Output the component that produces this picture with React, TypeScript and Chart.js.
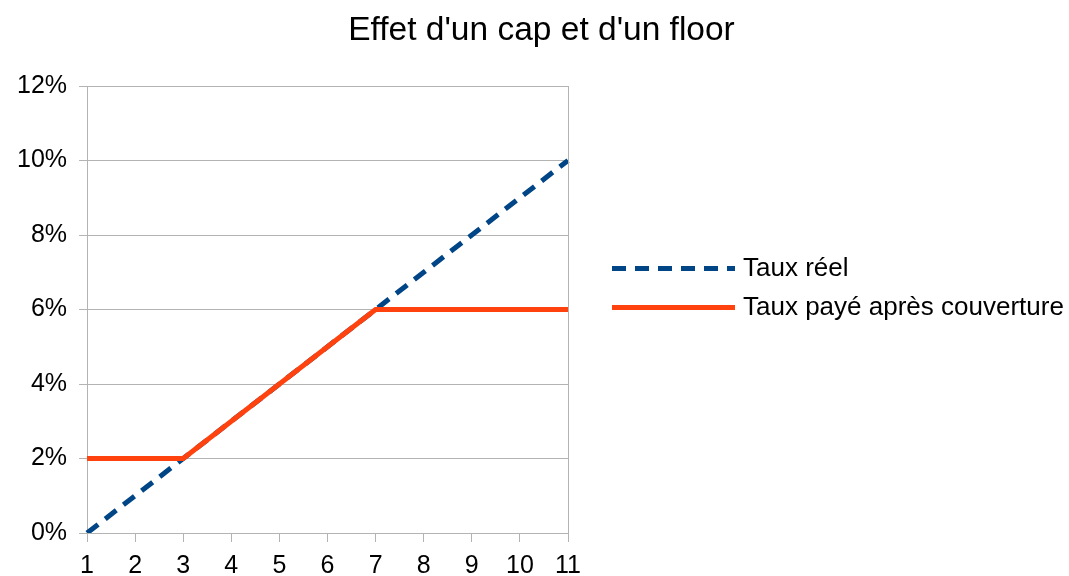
import React, { useEffect, useRef } from "react";
import { Chart, registerables } from "chart.js";

Chart.register(...registerables);

const categories = ["1", "2", "3", "4", "5", "6", "7", "8", "9", "10", "11"];
const tauxReel = [0, 1, 2, 3, 4, 5, 6, 7, 8, 9, 10];
const tauxPaye = [2, 2, 2, 3, 4, 5, 6, 6, 6, 6, 6];
const seriesNames = ["Taux réel", "Taux payé après couverture"];
const colors = ["#004586", "#ff420e"];
const titleText = "Effet d'un cap et d'un floor";

const FONT = "'Liberation Sans', Arial, sans-serif";

const legendPlugin = {
  id: "customLegend",
  afterDraw(chart: any) {
    const { ctx, chartArea } = chart;
    ctx.save();
    // right border of plot area
    ctx.strokeStyle = "#b3b3b3";
    ctx.lineWidth = 1;
    ctx.beginPath();
    ctx.moveTo(Math.round(chartArea.right) + 0.5, chartArea.top);
    ctx.lineTo(Math.round(chartArea.right) + 0.5, chartArea.bottom);
    ctx.stroke();

    // title
    ctx.fillStyle = "#000";
    ctx.font = `33.5px ${FONT}`;
    ctx.textAlign = "center";
    ctx.textBaseline = "alphabetic";
    ctx.fillText(titleText, chart.width / 2 + 7, 40);

    // legend
    const items = [
      { label: seriesNames[0], color: colors[0], dash: [14, 9] },
      { label: seriesNames[1], color: colors[1], dash: [] as number[] },
    ];
    const cy = chart.height / 2;
    const spacing = 39;
    const x0 = chartArea.right + 44;
    const lineLen = 123;
    ctx.font = `26px ${FONT}`;
    ctx.textBaseline = "middle";
    ctx.textAlign = "left";
    items.forEach((it, i) => {
      const y = cy + (i - 0.5) * spacing;
      ctx.strokeStyle = it.color;
      ctx.lineWidth = 5;
      ctx.lineCap = "butt";
      ctx.setLineDash(it.dash);
      ctx.beginPath();
      ctx.moveTo(x0, y);
      ctx.lineTo(x0 + lineLen, y);
      ctx.stroke();
      ctx.setLineDash([]);
      ctx.fillStyle = "#000";
      ctx.fillText(it.label, x0 + lineLen + 8, y);
    });
    ctx.restore();
  },
};

export default function App() {
  const ref = useRef<HTMLCanvasElement | null>(null);
  useEffect(() => {
    document.body.style.margin = "0";
    const chart = new Chart(ref.current as HTMLCanvasElement, {
      type: "line",
      data: {
        labels: categories,
        datasets: [
          {
            label: seriesNames[0],
            data: tauxReel,
            borderColor: colors[0],
            backgroundColor: colors[0],
            borderWidth: 5,
            borderDash: [14, 9],
            pointRadius: 0,
            tension: 0,
            order: 2,
          },
          {
            label: seriesNames[1],
            data: tauxPaye,
            borderColor: colors[1],
            backgroundColor: colors[1],
            borderWidth: 5,
            pointRadius: 0,
            tension: 0,
            order: 1,
          },
        ],
      },
      options: {
        animation: false,
        responsive: false,
        maintainAspectRatio: false,
        layout: { padding: { left: 5, right: 501, top: 86, bottom: -14 } },
        plugins: {
          legend: { display: false },
          tooltip: { enabled: false },
          title: { display: false },
        },
        scales: {
          x: {
            offset: false,
            grid: {
              drawOnChartArea: false,
              drawTicks: true,
              tickLength: 9,
              color: "#b3b3b3",
            },
            border: { display: true, color: "#b3b3b3" },
            ticks: {
              color: "#000",
              font: { family: FONT, size: 25 },
              padding: 9,
              maxRotation: 0,
              autoSkip: false,
            },
          },
          y: {
            min: 0,
            max: 12,
            grid: { color: "#b3b3b3", tickLength: 8, drawTicks: true },
            border: { display: true, color: "#b3b3b3" },
            ticks: {
              stepSize: 2,
              color: "#000",
              font: { family: FONT, size: 25 },
              padding: 12,
              callback: (v: any) => `${v}%`,
            },
          },
        },
      },
      plugins: [legendPlugin],
    });
    return () => chart.destroy();
  }, []);
  return (
    <div style={{ width: 1069, height: 576 }}>
      <canvas ref={ref} width={1069} height={576} style={{ display: "block" }} />
    </div>
  );
}
